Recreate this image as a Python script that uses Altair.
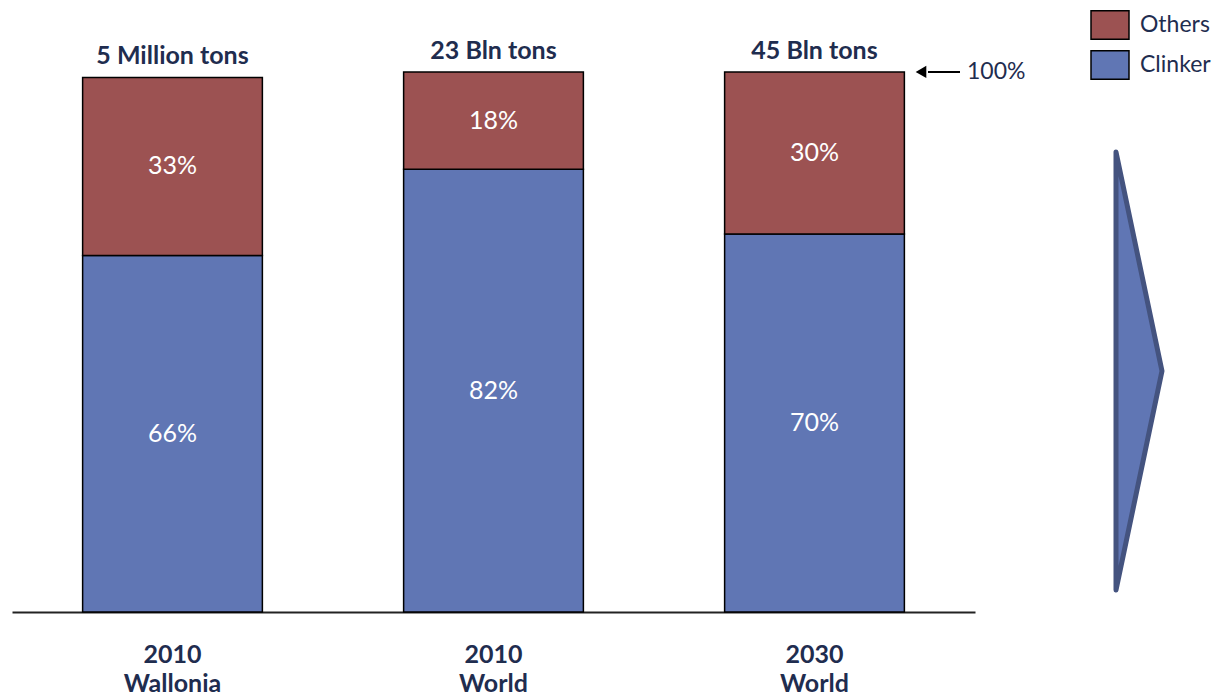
import altair as alt
import pandas as pd

years = ["2010", "2010", "2030"]
regions = ["Wallonia", "World", "World"]
totals = ["5 Million tons", "23 Bln tons", "45 Bln tons"]
clinker = [66, 82, 70]
others = [33, 18, 30]
series = ["Others", "Clinker"]
colors = ["#9C5252", "#6076B4"]
full_mark = [100]

NAVY = "#1F2D4F"
FONT = "Lato"

cats = [f"{y}|{r}" for y, r in zip(years, regions)]

rows = []
tops = []
for cat, c, o, t in zip(cats, clinker, others, totals):
    rows.append({"cat": cat, "series": "Clinker", "start": 0, "end": c, "mid": c / 2, "label": f"{c}%"})
    rows.append({"cat": cat, "series": "Others", "start": c, "end": c + o, "mid": c + o / 2, "label": f"{o}%"})
    tops.append({"cat": cat, "top": c + o, "label": t})
df = pd.DataFrame(rows)
tops_df = pd.DataFrame(tops)
mark_df = pd.DataFrame({"v": full_mark, "lbl": [f"{v}%" for v in full_mark]})

xscale = alt.Scale(domain=cats, range=[0, 963], paddingInner=0.44, paddingOuter=0.22)
yscale = alt.Scale(domain=[0, 113.33], nice=False, zero=True)

X = alt.X("cat:N", scale=xscale, sort=cats,
          axis=alt.Axis(title=None, ticks=False, domainColor="#222222", domainWidth=2,
                        labelFontSize=25, labelFontWeight="bold", labelColor=NAVY, labelFont=FONT,
                        labelExpr="split(datum.label, '|')", labelPadding=30, labelLineHeight=29,
                        labelAngle=0))

bars = alt.Chart(df).mark_bar(stroke="black", strokeWidth=1.5, opacity=1).encode(
    x=X,
    y=alt.Y("start:Q", scale=yscale, axis=None),
    y2="end:Q",
    color=alt.Color("series:N", scale=alt.Scale(domain=series, range=colors),
                    legend=alt.Legend(orient="none", legendX=1078, legendY=5, title=None,
                                      symbolType="M-1,-0.75L1,-0.75L1,0.75L-1,0.75Z",
                                      symbolSize=1444, symbolStrokeColor="black",
                                      symbolStrokeWidth=1.5, symbolOpacity=1,
                                      labelFontSize=23, labelFont=FONT, labelColor=NAVY,
                                      rowPadding=2, padding=0, labelOffset=10)),
)

pct = alt.Chart(df).mark_text(color="white", fontSize=25, font=FONT).encode(
    x=X, y=alt.Y("mid:Q", scale=yscale), text="label:N")

top_text = alt.Chart(tops_df).mark_text(fontSize=25, fontWeight="bold", font=FONT, color=NAVY,
                                        baseline="bottom", dy=-8).encode(
    x=X, y=alt.Y("top:Q", scale=yscale), text="label:N")

pointer = alt.Chart(mark_df).mark_rule(color="black", strokeWidth=2).encode(
    x=alt.value(916), x2=alt.value(948), y=alt.Y("v:Q", scale=yscale))
head = alt.Chart(mark_df).mark_point(shape="triangle-left", filled=True, color="black",
                                     size=150, opacity=1).encode(
    x=alt.value(909), y=alt.Y("v:Q", scale=yscale))
pointer_text = alt.Chart(mark_df).mark_text(align="left", fontSize=23, font=FONT, color=NAVY).encode(
    x=alt.value(955), y=alt.Y("v:Q", scale=yscale), text="lbl:N")

chevron = alt.Chart(mark_df).mark_point(shape="M0,-1L0.21,0L0,1Z", filled=True, fill="#6076B4",
                                        stroke="#44537F", strokeWidth=5, strokeJoin="round",
                                        size=191844, opacity=1).encode(
    x=alt.value(1104), y=alt.value(371))

chart = alt.layer(bars, pct, top_text, pointer, head, pointer_text, chevron).properties(
    width=1202, height=612,
    autosize=alt.AutoSizeParams(type="none"),
    padding={"left": 12, "top": 0, "right": 0, "bottom": 84},
).configure_view(stroke=None)

chart.save("out.html", embed_options={"renderer": "svg", "actions": False})
